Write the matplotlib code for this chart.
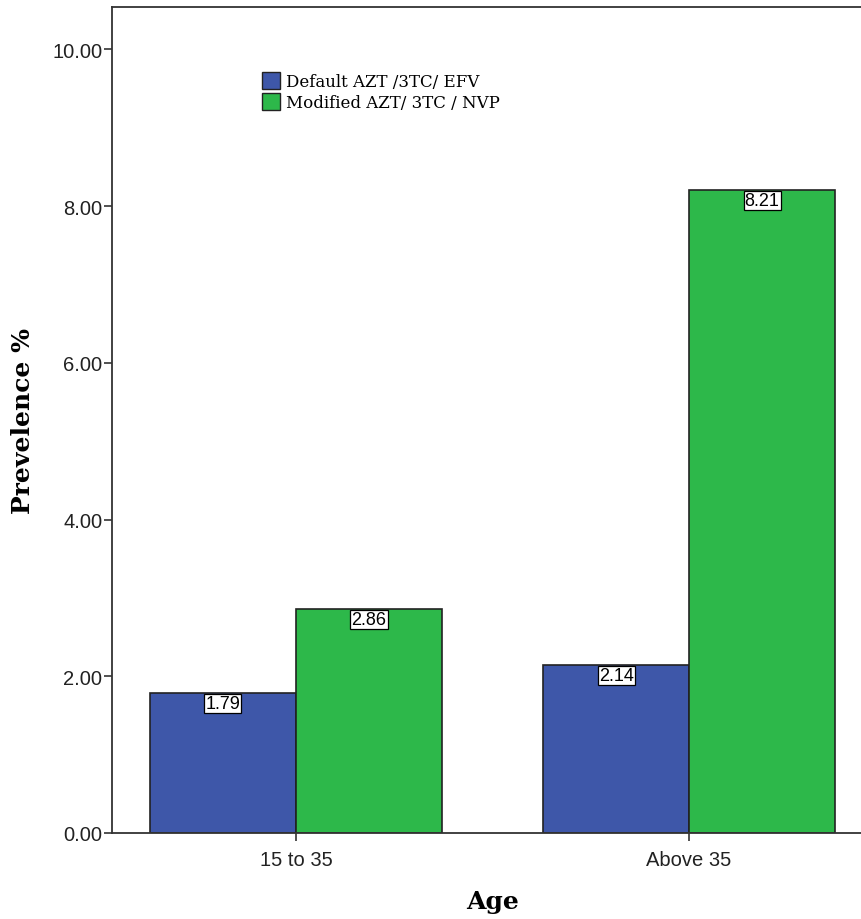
import numpy as np
import matplotlib.pyplot as plt
from matplotlib.patches import Patch

age_groups = ["15 to 35", "Above 35"]
default_regimen = [1.79, 2.14]
modified_regimen = [2.86, 8.21]
series_names = ["Default AZT /3TC/ EFV", "Modified AZT/ 3TC / NVP"]
yticks = [0, 2, 4, 6, 8, 10]

BLUE = "#3e57a9"
GREEN = "#2db84a"

fig = plt.figure(figsize=(8.62, 9.2), dpi=100)
ax = fig.add_axes([0.1299, 0.0935, 0.883, 0.8978])

x = np.arange(len(age_groups))
w = 0.3715
b1 = ax.bar(x - w / 2, default_regimen, w, color=BLUE, edgecolor="#222222", linewidth=1.2)
b2 = ax.bar(x + w / 2, modified_regimen, w, color=GREEN, edgecolor="#222222", linewidth=1.2)

for bars, vals in ((b1, default_regimen), (b2, modified_regimen)):
    for rect, v in zip(bars, vals):
        ax.annotate(f"{v:.2f}", (rect.get_x() + rect.get_width() / 2, v),
                    xytext=(0, -1.5), textcoords="offset points",
                    ha="center", va="top", fontsize=13, family="Liberation Sans",
                    bbox=dict(boxstyle="square,pad=0.06", fc="white", ec="black", lw=0.9))

ax.set_xlim(-0.468, 1.468)
ax.set_ylim(0, 10.54)
ax.set_yticks(yticks)
ax.set_yticklabels([f"{t:.2f}" for t in yticks], family="Liberation Sans", fontsize=14.5)
ax.set_xticks(x)
ax.set_xticklabels(age_groups, family="Liberation Sans", fontsize=14.5)
ax.tick_params(direction="out", length=6, width=1.2, colors="#333333", labelcolor="#222222")
ax.tick_params(axis="y", pad=1)
ax.tick_params(axis="x", pad=6)
for s in ax.spines.values():
    s.set_linewidth(1.3)
    s.set_color("#333333")

ax.set_ylabel("Prevelence %", family="DejaVu Serif", fontweight="bold", fontsize=18, labelpad=12)
ax.set_xlabel("Age", family="DejaVu Serif", fontweight="bold", fontsize=18, labelpad=15)

handles = [Patch(facecolor=BLUE, edgecolor="#222222"), Patch(facecolor=GREEN, edgecolor="#222222")]
ax.legend(handles, series_names, loc="upper left", bbox_to_anchor=(0.188, 0.929),
          frameon=False, prop={"family": "DejaVu Serif", "size": 12},
          handlelength=1.1, handleheight=1.2, handletextpad=0.35, labelspacing=0.15,
          borderaxespad=0)

fig.savefig("out.png", dpi=100)
